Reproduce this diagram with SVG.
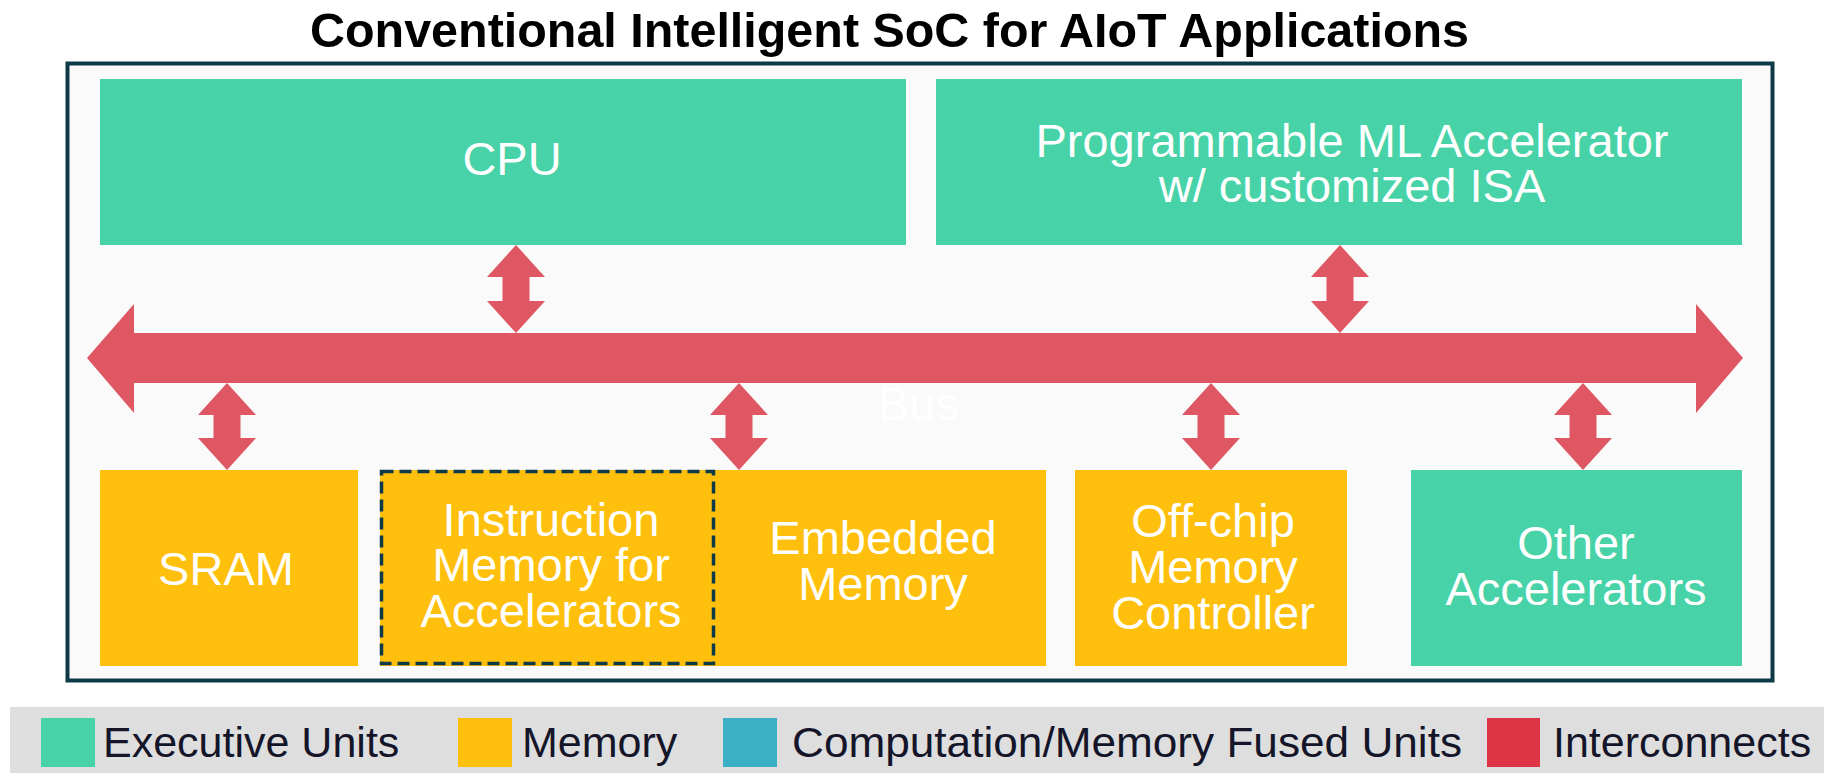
<svg xmlns="http://www.w3.org/2000/svg" width="1824" height="773" viewBox="0 0 1824 773">
  <defs>
    <style>
      .title { font-family: "Liberation Sans", Arial, sans-serif; font-weight: bold; font-size: 48px; fill: #000; text-anchor: middle; }
      .lbl { font-family: "Liberation Sans", Arial, sans-serif; font-size: 47px; fill: #fff; text-anchor: middle; }
      .leg { font-family: "Liberation Sans", Arial, sans-serif; font-size: 43px; fill: #15152a; }
      .exec { fill: #47d2a8; }
      .mem { fill: #fec00c; }
      .fused { fill: #3bafc3; }
      .icon { fill: #dd3545; }
      .bus { fill: #e05764; }
    </style>
  </defs>

  <rect width="1824" height="773" fill="#ffffff"/>

  <text class="title" x="889.5" y="47" textLength="1159" lengthAdjust="spacingAndGlyphs">Conventional Intelligent SoC for AIoT Applications</text>

  <!-- SoC frame -->
  <rect id="soc-frame" x="67.5" y="63.5" width="1705" height="617" fill="#fafafa" stroke="#0e3a48" stroke-width="4"/>

  <!-- top row -->
  <g id="cpu">
    <rect class="exec" x="100" y="79" width="806" height="166"/>
    <text class="lbl" x="512" y="175">CPU</text>
  </g>
  <g id="ml-accelerator">
    <rect class="exec" x="936" y="79" width="806" height="166"/>
    <text class="lbl" x="1352" y="157">Programmable ML Accelerator</text>
    <text class="lbl" x="1352" y="202">w/ customized ISA</text>
  </g>

  <!-- bottom row -->
  <g id="sram">
    <rect class="mem" x="100" y="470" width="258" height="196"/>
    <text class="lbl" x="226" y="585">SRAM</text>
  </g>
  <g id="instruction-memory">
    <rect class="mem" x="380" y="470" width="334" height="196"/>
    <text class="lbl" x="551" y="536">Instruction</text>
    <text class="lbl" x="551" y="581">Memory for</text>
    <text class="lbl" x="551" y="627">Accelerators</text>
  </g>
  <g id="embedded-memory">
    <rect class="mem" x="713" y="470" width="333" height="196"/>
    <text class="lbl" x="883" y="554">Embedded</text>
    <text class="lbl" x="883" y="600">Memory</text>
  </g>
  <rect id="instruction-memory-outline" x="381.5" y="471.5" width="332" height="192" fill="none" stroke="#0e3a48" stroke-width="3.5" stroke-dasharray="12 6"/>
  <g id="offchip-controller">
    <rect class="mem" x="1075" y="470" width="272" height="196"/>
    <text class="lbl" x="1213" y="537">Off-chip</text>
    <text class="lbl" x="1213" y="583">Memory</text>
    <text class="lbl" x="1213" y="629">Controller</text>
  </g>
  <g id="other-accelerators">
    <rect class="exec" x="1411" y="470" width="331" height="196"/>
    <text class="lbl" x="1576" y="559">Other</text>
    <text class="lbl" x="1576" y="605">Accelerators</text>
  </g>

  <!-- interconnects -->
  <g id="connectors" class="bus">
    <path id="bus" d="M87 358 L134 304 L134 333 L1696 333 L1696 304 L1743 358 L1696 413 L1696 383 L134 383 L134 413 Z"/>
    <path d="M516 245 L545 277 L529.5 277 L529.5 301 L545 301 L516 333 L487 301 L502.5 301 L502.5 277 L487 277 Z"/>
    <path d="M1340 245 L1369 277 L1353.5 277 L1353.5 301 L1369 301 L1340 333 L1311 301 L1326.5 301 L1326.5 277 L1311 277 Z"/>
    <path d="M227 383 L256 415 L240.5 415 L240.5 438 L256 438 L227 470 L198 438 L213.5 438 L213.5 415 L198 415 Z"/>
    <path d="M739 383 L768 415 L752.5 415 L752.5 438 L768 438 L739 470 L710 438 L725.5 438 L725.5 415 L710 415 Z"/>
    <path d="M1211 383 L1240 415 L1224.5 415 L1224.5 438 L1240 438 L1211 470 L1182 438 L1197.5 438 L1197.5 415 L1182 415 Z"/>
    <path d="M1583 383 L1612 415 L1596.5 415 L1596.5 438 L1612 438 L1583 470 L1554 438 L1569.5 438 L1569.5 415 L1554 415 Z"/>
  </g>
  <text x="878" y="420" font-family="Liberation Sans, Arial, sans-serif" font-size="47" fill="#ffffff">Bus</text>

  <!-- legend -->
  <g id="legend">
    <rect x="10" y="707" width="1814" height="66" fill="#dedede"/>
    <rect class="exec" x="41" y="718" width="54" height="49"/>
    <text class="leg" x="103" y="757">Executive Units</text>
    <rect class="mem" x="458" y="718" width="54" height="49"/>
    <text class="leg" x="522" y="757">Memory</text>
    <rect class="fused" x="723" y="718" width="54" height="49"/>
    <text class="leg" x="792" y="757" textLength="670" lengthAdjust="spacingAndGlyphs">Computation/Memory Fused Units</text>
    <rect class="icon" x="1487" y="718" width="53" height="49"/>
    <text class="leg" x="1553" y="757">Interconnects</text>
  </g>
</svg>
